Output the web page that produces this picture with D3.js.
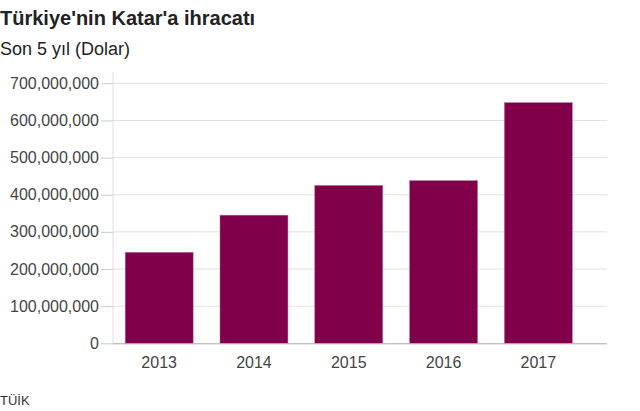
<!DOCTYPE html>
<html>
<head>
<meta charset="utf-8">
<script src="https://cdn.jsdelivr.net/npm/d3@7"></script>
<style>
  body { margin: 0; background: #fff; }
  svg { display: block; font-family: "Liberation Sans", Arial, sans-serif; }
</style>
</head>
<body>
<svg id="chart" width="640" height="411"></svg>
<script>
const years = ["2013", "2014", "2015", "2016", "2017"];
const exports = [245000000, 345000000, 425000000, 438000000, 648000000];
const yTicks = [0, 100000000, 200000000, 300000000, 400000000, 500000000, 600000000, 700000000];

const svg = d3.select("#chart");

// title block
svg.append("text")
  .attr("x", 0).attr("y", 25)
  .attr("font-size", 20).attr("font-weight", "bold").attr("fill", "#222")
  .text("Türkiye'nin Katar'a ihracatı");
svg.append("text")
  .attr("x", 0).attr("y", 55)
  .attr("font-size", 18).attr("fill", "#222")
  .text("Son 5 yıl (Dolar)");
svg.append("text")
  .attr("x", 0).attr("y", 405)
  .attr("font-size", 13).attr("fill", "#333")
  .text("TÜİK");

const plotLeft = 113, plotRight = 607, plotTop = 83.3, plotBottom = 343.3;

const x = d3.scaleBand()
  .domain(years)
  .range([plotLeft, plotRight])
  .paddingInner(0.283)
  .paddingOuter(0.247)
  .align(0.26);

const y = d3.scaleLinear()
  .domain([0, 700000000])
  .range([plotBottom, plotTop]);

// gridlines
svg.append("g")
  .selectAll("line")
  .data(yTicks.slice(1))
  .join("line")
  .attr("x1", plotLeft).attr("x2", plotRight)
  .attr("y1", d => y(d)).attr("y2", d => y(d))
  .attr("stroke", "#e0e0e0").attr("stroke-width", 1);

// vertical axis line
svg.append("line")
  .attr("x1", plotLeft).attr("x2", plotLeft)
  .attr("y1", 72).attr("y2", plotBottom)
  .attr("stroke", "#e0e0e0");

// y axis
const yAxis = svg.append("g")
  .attr("transform", `translate(${plotLeft},0)`)
  .call(d3.axisLeft(y).tickValues(yTicks).tickSize(12).tickPadding(2)
    .tickFormat(d3.format(",")));
yAxis.select(".domain").remove();
yAxis.selectAll(".tick line").attr("stroke", "#ccc");
yAxis.selectAll(".tick text")
  .attr("font-size", 16).attr("fill", "#444")
  .attr("font-family", "'Liberation Sans', Arial, sans-serif");

// bars
svg.append("g")
  .selectAll("rect")
  .data(exports)
  .join("rect")
  .attr("x", (d, i) => x(years[i]))
  .attr("width", x.bandwidth())
  .attr("y", d => y(d))
  .attr("height", d => plotBottom - y(d))
  .attr("fill", "#80004a")
  .attr("stroke", "#c070a0").attr("stroke-width", 0.5);

// x axis
const xAxis = svg.append("g")
  .attr("transform", `translate(0,${plotBottom})`)
  .call(d3.axisBottom(x).tickSize(0).tickPadding(13));
xAxis.select(".domain")
  .attr("d", `M${plotLeft},0.5H${plotRight}`)
  .attr("stroke", "#aaa");
xAxis.selectAll(".tick text")
  .attr("font-size", 16).attr("fill", "#444")
  .attr("font-family", "'Liberation Sans', Arial, sans-serif");
</script>
</body>
</html>
